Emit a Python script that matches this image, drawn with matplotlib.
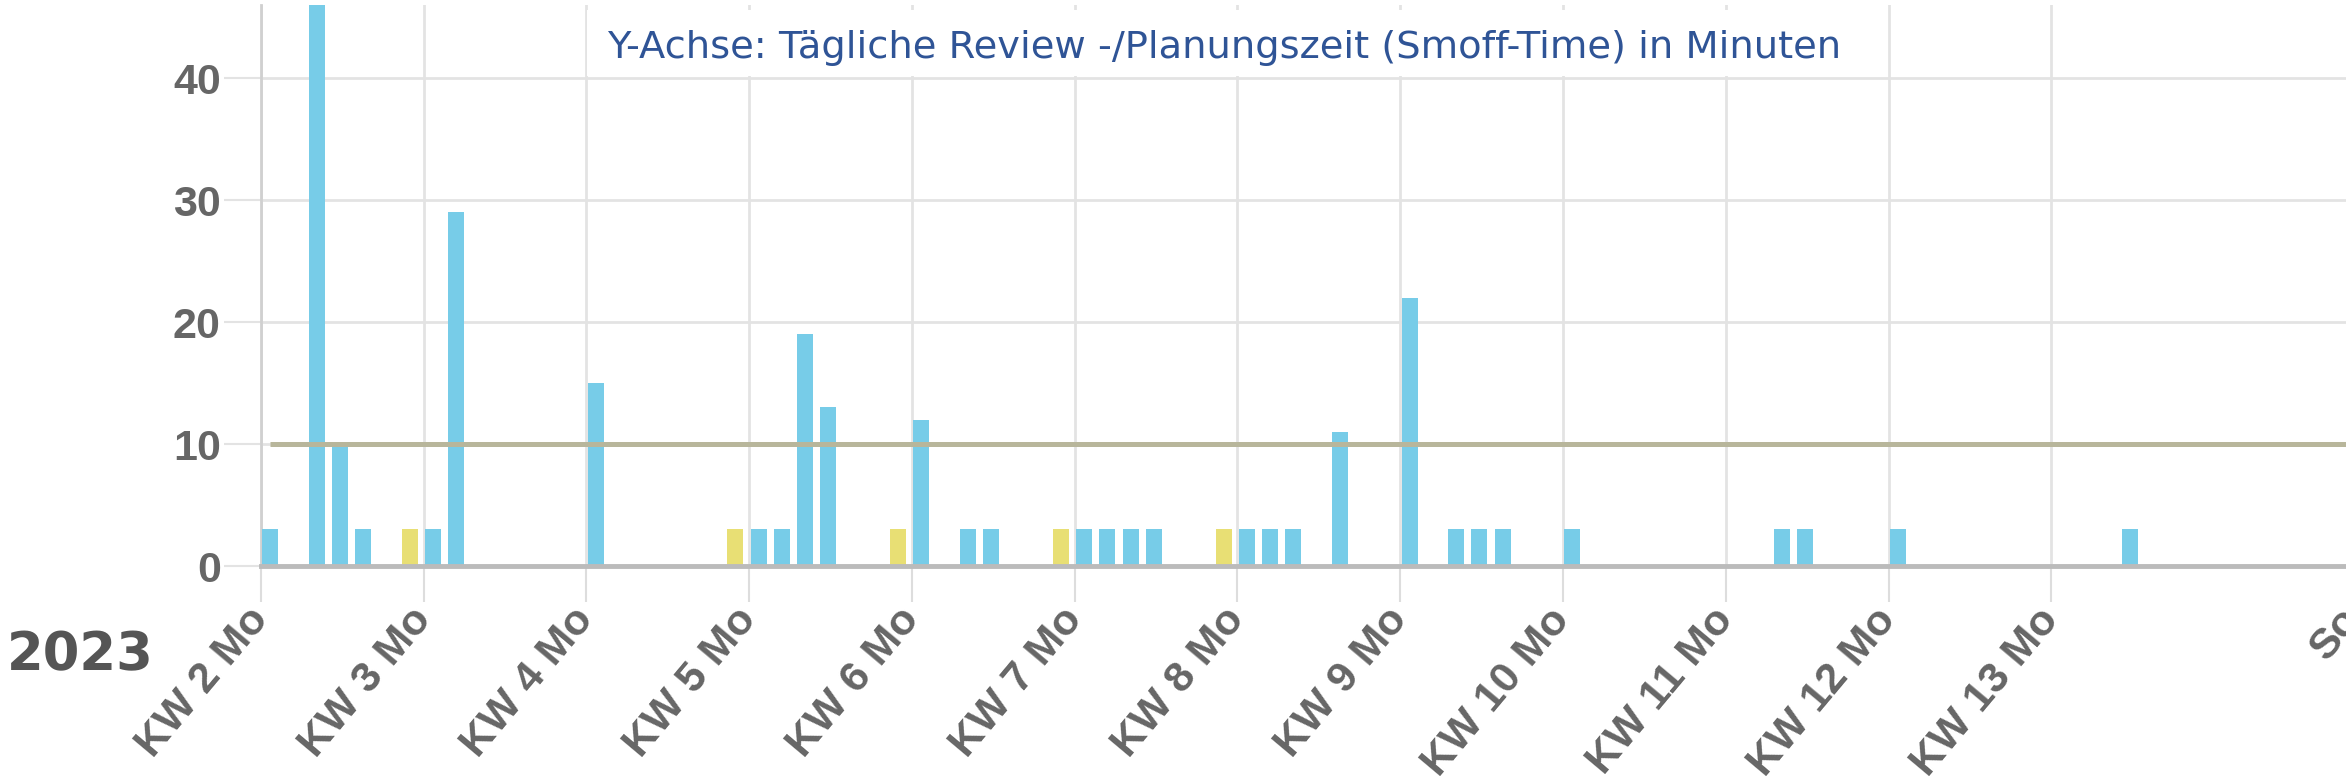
import matplotlib
matplotlib.use('Agg')
import matplotlib.pyplot as plt
import matplotlib.dates as mdates
import matplotlib.transforms as mtransforms
from matplotlib.patches import Rectangle
import pandas as pd

# Daten: tägliche Review-/Planungszeit in Minuten (2023)
tage = ['2023-01-09', '2023-01-11', '2023-01-12', '2023-01-13', '2023-01-15',
        '2023-01-16', '2023-01-17', '2023-01-23', '2023-01-29', '2023-01-30',
        '2023-01-31', '2023-02-01', '2023-02-02', '2023-02-05', '2023-02-06',
        '2023-02-08', '2023-02-09', '2023-02-12', '2023-02-13', '2023-02-14',
        '2023-02-15', '2023-02-16', '2023-02-19', '2023-02-20', '2023-02-21',
        '2023-02-22', '2023-02-24', '2023-02-27', '2023-03-01', '2023-03-02',
        '2023-03-03', '2023-03-06', '2023-03-15', '2023-03-16', '2023-03-20',
        '2023-03-30']
minuten = [3, 50, 10, 3, 3,
           3, 29, 15, 3, 3,
           3, 19, 13, 3, 12,
           3, 3, 3, 3, 3,
           3, 3, 3, 3, 3,
           3, 11, 22, 3, 3,
           3, 3, 3, 3, 3,
           3]
ziel = 10
start = '2023-01-09'
ende = '2023-04-09'
titel = 'Y-Achse: Tägliche Review -/Planungszeit (Smoff-Time) in Minuten'
jahr = '2023'

farbe_tag = '#77CCE8'
farbe_sonntag = '#E8DF74'
farbe_ziel = '#B8B69B'
grau = '#666666'

W, H = 2346, 782
fig = plt.figure(figsize=(W / 100, H / 100), dpi=100)
ax = fig.add_axes([261 / W, 1 - 566 / H, (W - 261) / W, (566 - 5) / H])

d = pd.to_datetime(tage)
x = mdates.date2num(d) + 0.4
farben = [farbe_sonntag if t.weekday() == 6 else farbe_tag for t in d]
ax.bar(x, minuten, width=0.69, color=farben, zorder=3)

x0 = mdates.date2num(pd.Timestamp(start))
x_end = mdates.date2num(pd.Timestamp(ende))
ax.hlines(ziel, x0 + 0.4, x_end + 5, color=farbe_ziel, lw=3.6, zorder=4)

ax.set_xlim(x0, x0 + (W - 261) / 23.25)
ax.set_ylim(0, 46)
ax.set_yticks([0, 10, 20, 30, 40])

montage = pd.date_range(start, ende, freq='7D')[:-1][:12]
ax.set_xticks(mdates.date2num(montage))
ax.set_xticklabels(['KW %d Mo' % t.isocalendar()[1] for t in montage],
                   rotation=50, ha='right', va='center', rotation_mode='anchor')

fs = 31
tickfont = dict(family='Liberation Sans', weight='bold', size=fs, color=grau)
for lab in ax.get_xticklabels() + ax.get_yticklabels():
    lab.set_fontfamily('Liberation Sans')
    lab.set_fontweight('bold')
    lab.set_fontsize(fs)
    lab.set_color(grau)

xlen, xpad = 26, 8
ax.tick_params(axis='x', length=xlen, width=1.5, color='#dddddd', pad=xpad)
ax.tick_params(axis='y', length=27, width=1.5, color='#e3e3e3', pad=2)
ax.grid(True, color='#e3e3e3', lw=2, zorder=0)
ax.set_axisbelow(True)

for s in ['top', 'right']:
    ax.spines[s].set_visible(False)
ax.spines['left'].set_color('#d0d0d0')
ax.spines['left'].set_linewidth(2)
ax.spines['bottom'].set_color('#bbbbbb')
ax.spines['bottom'].set_linewidth(3.5)
ax.spines['bottom'].set_zorder(5)

# letzter Tick (Sonntag) liegt ausserhalb des sichtbaren Bereichs
trans = mtransforms.offset_copy(ax.get_xaxis_transform(), fig=fig,
                                y=-(xlen + xpad), units='points')
ax.text(x_end, 0, 'So', transform=trans, rotation=50, ha='right',
        va='center', rotation_mode='anchor', clip_on=False, **tickfont)

# Titel mit weissem Kasten
fig.patches.append(Rectangle((587 / W, 1 - 76 / H), (1884 - 587) / W, 66 / H,
                             transform=fig.transFigure, facecolor='white',
                             edgecolor='none', zorder=1))
fig.text(607 / W, 1 - 58 / H, titel, fontsize=27.6, color='#2F5496',
         family='DejaVu Sans', va='baseline', zorder=2)

fig.text(7 / W, 1 - 670 / H, jahr, fontsize=38, fontweight='bold',
         color='#555555', family='DejaVu Sans', va='baseline')

fig.savefig('out.png', dpi=100)
